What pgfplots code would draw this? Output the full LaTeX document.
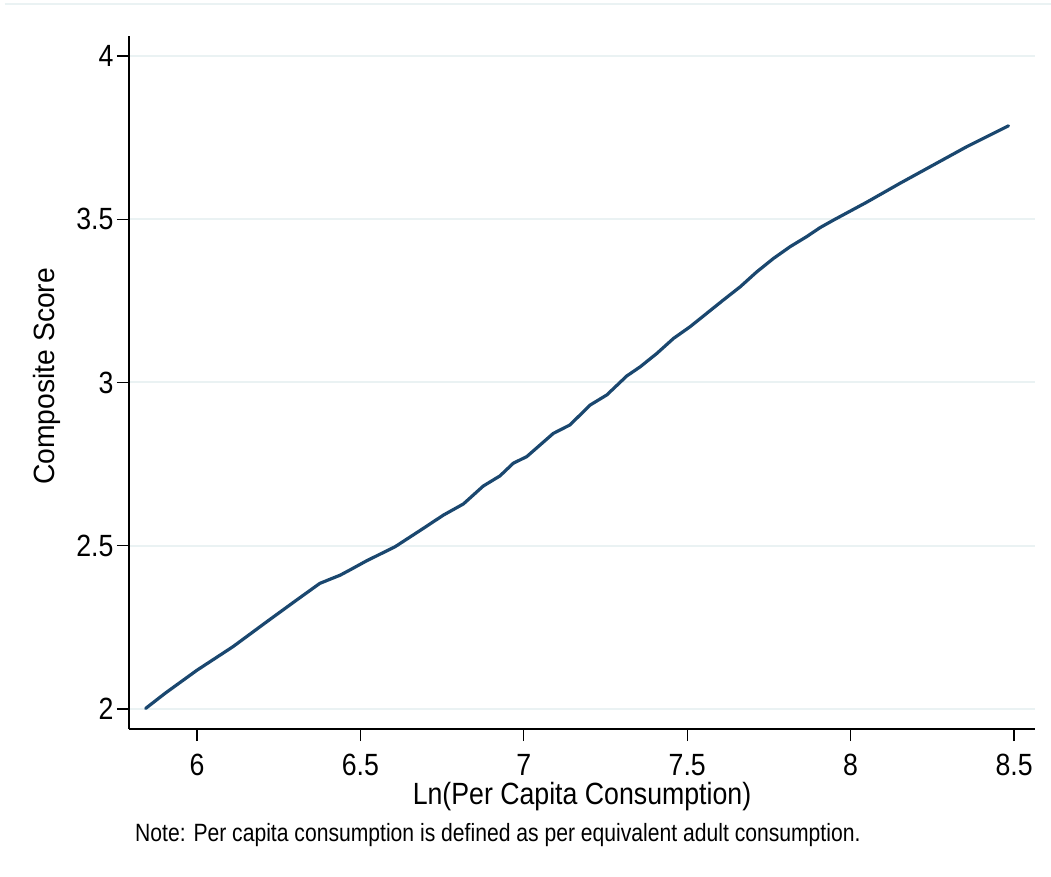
\documentclass[border=0pt]{standalone}
\usepackage{pgfplots}
\pgfplotsset{compat=1.18}
\usepackage{fontspec}
\setmainfont{Liberation Sans}
\usepackage{graphicx}
\definecolor{navy}{HTML}{1A476F}
\definecolor{gridc}{HTML}{EAF2F3}
\newcommand{\hs}[1]{\scalebox{0.87}[1]{#1}}
\begin{document}
\begin{tikzpicture}
\path[use as bounding box] (-129bp,-148bp) rectangle (922bp,729bp);
\fill[white] (-129bp,-148bp) rectangle (922bp,729bp);
\draw[gridc, line width=1.6bp] (-124bp,725bp) -- (922bp,725bp);
\begin{axis}[
  at={(0,0)}, anchor=south west,
  scale only axis, width=906bp, height=693bp,
  xmin=5.792, xmax=8.564, ymin=1.939, ymax=4.061,
  axis x line*=bottom, axis y line*=left,
  axis line style={black, line width=1.4bp},
  xtick={6,6.5,7,7.5,8,8.5},
  xticklabels={\hs{6},\hs{6.5},\hs{7},\hs{7.5},\hs{8},\hs{8.5}},
  ytick={2,2.5,3,3.5,4},
  yticklabels={\hs{2},\hs{2.5},\hs{3},\hs{3.5},\hs{4}},
  tick align=outside, major tick length=12bp,
  tick style={black, line width=1.3bp},
  ticklabel style={font=\fontsize{30.7bp}{34bp}\selectfont},
  xticklabel style={inner sep=0pt, yshift=-13bp},
  ymajorgrids, grid style={gridc, line width=2bp},
  xlabel={\hs{Ln(Per Capita Consumption)}},
  xlabel style={font=\fontsize{30.7bp}{34bp}\selectfont, inner sep=0pt, at={(axis description cs:0.5,0)}, anchor=base, yshift=-75bp},
  ylabel={\scalebox{0.965}[1]{Composite Score}},
  ylabel style={font=\fontsize{29.3bp}{34bp}\selectfont, at={(axis description cs:0,0.509)}, anchor=base, yshift=74bp},
]
\addplot[navy, line width=3.2bp, line join=round, line cap=round] coordinates {
(5.843,2.002) (5.902,2.048) (6.000,2.119) (6.110,2.191) (6.213,2.267)
(6.305,2.334) (6.376,2.385) (6.438,2.410) (6.468,2.426) (6.519,2.454)
(6.606,2.497) (6.692,2.553) (6.754,2.594) (6.815,2.628) (6.876,2.683)
(6.927,2.714) (6.968,2.753) (7.009,2.773) (7.090,2.844) (7.141,2.870)
(7.203,2.931) (7.254,2.962) (7.315,3.020) (7.356,3.048) (7.407,3.089)
(7.458,3.135) (7.509,3.171) (7.560,3.212) (7.611,3.253) (7.662,3.293)
(7.713,3.339) (7.764,3.380) (7.815,3.416) (7.866,3.447) (7.906,3.474)
(7.947,3.497) (8.049,3.552) (8.151,3.610) (8.253,3.666) (8.355,3.722)
(8.483,3.786)
};
\end{axis}
\node[anchor=base west, inner sep=0pt, font=\fontsize{25bp}{30bp}\selectfont] at (6bp,-112bp) {\scalebox{0.845}[1]{Note: Per capita consumption is defined as per equivalent adult consumption.}};
\end{tikzpicture}
\end{document}
